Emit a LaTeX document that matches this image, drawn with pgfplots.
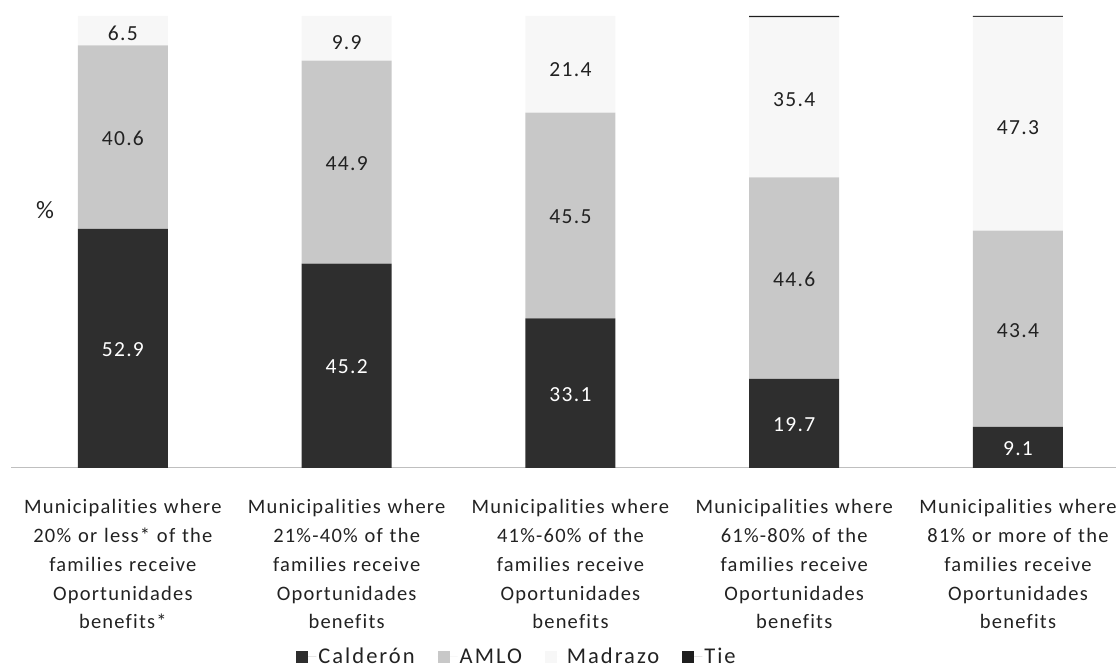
\documentclass[border=0pt]{standalone}
\usepackage{fontspec}
\setmainfont{Carlito}[LetterSpace=6, Ligatures={NoCommon}]
\usepackage{pgfplots}
\pgfplotsset{compat=1.18}
\definecolor{cald}{HTML}{2E2E2E}
\definecolor{amlo}{HTML}{C8C8C8}
\definecolor{madr}{HTML}{F7F7F7}
\definecolor{tie}{HTML}{1E1E1E}
\definecolor{txt}{HTML}{222222}
\begin{document}
\begin{tikzpicture}
\useasboundingbox (0,0) rectangle (1116pt,671pt);
\pgfplotsset{common/.style={at={(11pt,203pt)}, anchor=south west, scale only axis,
  width=1105pt, height=452pt, xmin=-0.5, xmax=4.438, ymin=0, ymax=100, clip=false}}
\begin{axis}[common, ybar stacked, bar width=90pt,
  axis x line*=bottom, axis y line=none,
  axis line style={draw=gray!50, line width=1pt, -},
  xtick={0,1,2,3,4}, major tick length=0pt,
  xticklabels={{Municipalities where\\20\% or less* of the\\families receive\\Oportunidades\\benefits*},
               {Municipalities where\\21\%-40\% of the\\families receive\\Oportunidades\\benefits},
               {Municipalities where\\41\%-60\% of the\\families receive\\Oportunidades\\benefits},
               {Municipalities where\\61\%-80\% of the\\families receive\\Oportunidades\\benefits},
               {Municipalities where\\81\% or more of the\\families receive\\Oportunidades\\benefits}},
  xticklabel style={align=center, text width=225pt, font=\fontsize{20.5}{28.8}\selectfont, text=txt, yshift=-28pt, anchor=north},
  legend columns=4,
  legend style={at={(0.458,-0.418)}, anchor=center, draw=none, fill=none,
    font=\fontsize{22.5}{26}\selectfont\addfontfeature{LetterSpace=9}, text=txt,
    /tikz/every even column/.append style={column sep=21pt}},
  legend image code/.code={\fill[#1] (0pt,-6pt) rectangle (12pt,6pt); \path (0pt,0pt) -- (20pt,0pt);},
]
\addplot[fill=cald, draw=none] coordinates {(0,52.9) (1,45.2) (2,33.1) (3,19.7) (4,9.1)};
\addlegendentry{Calderón}
\addplot[fill=amlo, draw=none] coordinates {(0,40.6) (1,44.9) (2,45.5) (3,44.6) (4,43.4)};
\addlegendentry{AMLO}
\addplot[fill=madr, draw=none] coordinates {(0,6.5) (1,9.9) (2,21.4) (3,35.4) (4,47.3)};
\addlegendentry{Madrazo}
\addplot[fill=tie, draw=none] coordinates {(0,0) (1,0) (2,0) (3,0.3) (4,0.2)};
\addlegendentry{Tie}
\end{axis}
\begin{axis}[common, hide axis]
\addplot[draw=none, mark=none, nodes near coords, point meta=explicit symbolic,
  every node near coord/.style={anchor=center, text=white, font=\fontsize{21.5}{25}\selectfont}]
  coordinates {(0,26.2)[52.9] (1,22.4)[45.2] (2,16.3)[33.1] (3,9.6)[19.7] (4,4.3)[9.1]};
\addplot[draw=none, mark=none, nodes near coords, point meta=explicit symbolic,
  every node near coord/.style={anchor=center, text=txt, font=\fontsize{21.5}{25}\selectfont}]
  coordinates {(0,72.9)[40.6] (1,67.3)[44.9] (2,55.5)[45.5] (3,41.7)[44.6] (4,30.5)[43.4]};
\addplot[draw=none, mark=none, nodes near coords, point meta=explicit symbolic,
  every node near coord/.style={anchor=center, text=txt, font=\fontsize{21.5}{25}\selectfont}]
  coordinates {(0,96.2)[6.5] (1,94.2)[9.9] (2,88.1)[21.4] (3,81.4)[35.4] (4,75.4)[47.3]};
\end{axis}
\node[font=\fontsize{25}{28}\selectfont, text=txt] at (45pt,461pt) {\%};
\end{tikzpicture}
\end{document}
